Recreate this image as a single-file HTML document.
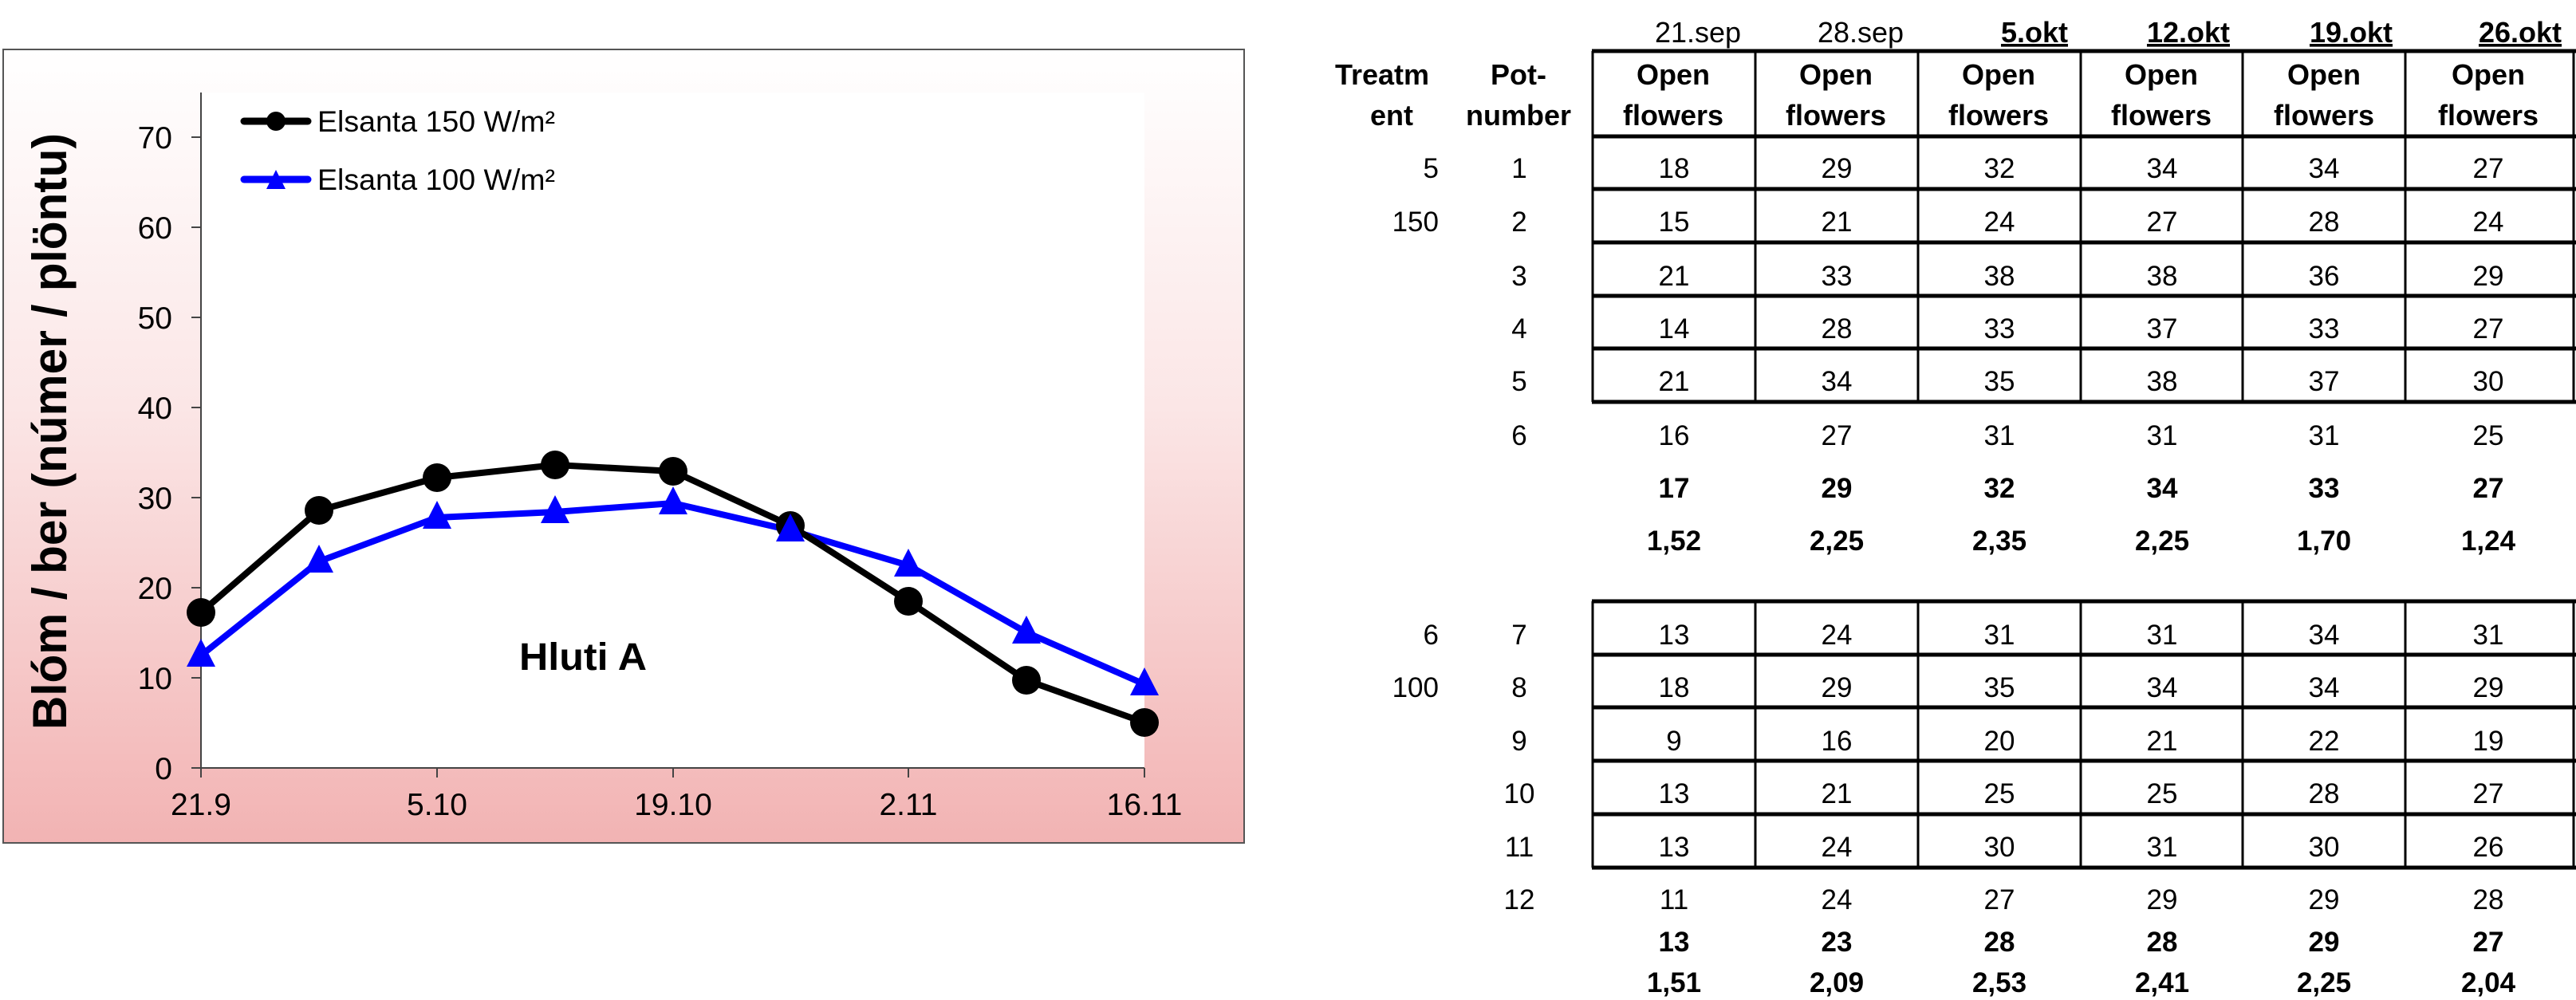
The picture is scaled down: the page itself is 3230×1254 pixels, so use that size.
<!DOCTYPE html>
<html><head><meta charset="utf-8"><style>
html,body{margin:0;padding:0;background:#fff}
svg{display:block}
text{font-family:"Liberation Sans",Arial,sans-serif}
</style></head><body>
<svg width="3230" height="1254" viewBox="0 0 3230 1254" xmlns="http://www.w3.org/2000/svg">
<defs>
<linearGradient id="bg" x1="0" y1="0" x2="0" y2="1">
<stop offset="0" stop-color="#ffffff"/>
<stop offset="0.45" stop-color="#fbe6e6"/>
<stop offset="1" stop-color="#f2b3b3"/>
</linearGradient>
</defs>
<rect x="4" y="62" width="1556" height="995" fill="url(#bg)" stroke="#555" stroke-width="2"/>
<rect x="252" y="116" width="1183" height="847" fill="#fff"/>
<g stroke="#444" stroke-width="2">
<line x1="252" y1="116" x2="252" y2="963"/>
<line x1="252" y1="963" x2="1435" y2="963"/>
<line x1="240" y1="963" x2="252" y2="963"/><line x1="240" y1="850" x2="252" y2="850"/>
<line x1="240" y1="737" x2="252" y2="737"/><line x1="240" y1="624" x2="252" y2="624"/>
<line x1="240" y1="511" x2="252" y2="511"/><line x1="240" y1="398" x2="252" y2="398"/>
<line x1="240" y1="285" x2="252" y2="285"/><line x1="240" y1="172" x2="252" y2="172"/>
<line x1="252" y1="963" x2="252" y2="975"/><line x1="548" y1="963" x2="548" y2="975"/>
<line x1="844" y1="963" x2="844" y2="975"/><line x1="1139" y1="963" x2="1139" y2="975"/>
<line x1="1435" y1="963" x2="1435" y2="975"/>
</g>
<g font-size="39" text-anchor="end">
<text x="216" y="977">0</text><text x="216" y="864">10</text><text x="216" y="751">20</text>
<text x="216" y="638">30</text><text x="216" y="525">40</text><text x="216" y="412">50</text>
<text x="216" y="299">60</text><text x="216" y="186">70</text>
</g>
<g font-size="39" text-anchor="middle">
<text x="252" y="1022">21.9</text><text x="548" y="1022">5.10</text><text x="844" y="1022">19.10</text>
<text x="1139" y="1022">2.11</text><text x="1435" y="1022">16.11</text>
</g>
<text transform="translate(83,541) rotate(-90)" font-size="60" font-weight="bold" text-anchor="middle" textLength="748" lengthAdjust="spacingAndGlyphs">Blóm / ber (númer / plöntu)</text>
<text x="651" y="840" font-size="48" font-weight="bold" textLength="160" lengthAdjust="spacingAndGlyphs">Hluti A</text>
<polyline fill="none" stroke="#0000ff" stroke-width="8" points="252,822 400,704 548,649 696,642 844,631 991,665 1139,709 1287,793 1435,858"/>
<polyline fill="none" stroke="#000" stroke-width="8" points="252,768 400,640 548,599 696,583 844,591 991,659 1139,754 1287,853 1435,906"/>
<g fill="#000">
<circle cx="252" cy="768" r="18"/><circle cx="400" cy="640" r="18"/><circle cx="548" cy="599" r="18"/>
<circle cx="696" cy="583" r="18"/><circle cx="844" cy="591" r="18"/><circle cx="991" cy="659" r="18"/>
<circle cx="1139" cy="754" r="18"/><circle cx="1287" cy="853" r="18"/><circle cx="1435" cy="906" r="18"/>
</g>
<g fill="#0000ff">
<path d="M252,801 l18,35 h-36z"/><path d="M400,683 l18,35 h-36z"/><path d="M548,628 l18,35 h-36z"/>
<path d="M696,621 l18,35 h-36z"/><path d="M844,610 l18,35 h-36z"/><path d="M991,644 l18,35 h-36z"/>
<path d="M1139,688 l18,35 h-36z"/><path d="M1287,772 l18,35 h-36z"/><path d="M1435,837 l18,35 h-36z"/>
</g>
<line x1="306" y1="152" x2="386" y2="152" stroke="#000" stroke-width="9" stroke-linecap="round"/>
<circle cx="346" cy="152" r="12" fill="#000"/>
<line x1="306" y1="225" x2="386" y2="225" stroke="#0000ff" stroke-width="9" stroke-linecap="round"/>
<path d="M346,213 l12,24 h-24z" fill="#0000ff"/>
<text x="398" y="165" font-size="37" textLength="298" lengthAdjust="spacingAndGlyphs">Elsanta 150 W/m²</text>
<text x="398" y="238" font-size="37" textLength="298" lengthAdjust="spacingAndGlyphs">Elsanta 100 W/m²</text>

<g font-size="36" text-anchor="middle">
<text x="2129" y="53">21.sep</text><text x="2333" y="53">28.sep</text>
<g font-weight="bold" text-decoration="underline">
<text x="2551" y="53">5.okt</text><text x="2744" y="53">12.okt</text>
<text x="2948" y="53">19.okt</text><text x="3160" y="53">26.okt</text>
</g>
</g>
<g font-size="36" font-weight="bold" text-anchor="middle">
<text x="1733" y="106">Treatm</text><text x="1745" y="157">ent</text>
<text x="1904" y="106">Pot-</text><text x="1904" y="157">number</text>
<text x="2098" y="106">Open</text><text x="2098" y="157">flowers</text>
<text x="2302" y="106">Open</text><text x="2302" y="157">flowers</text>
<text x="2506" y="106">Open</text><text x="2506" y="157">flowers</text>
<text x="2710" y="106">Open</text><text x="2710" y="157">flowers</text>
<text x="2914" y="106">Open</text><text x="2914" y="157">flowers</text>
<text x="3120" y="106">Open</text><text x="3120" y="157">flowers</text>
</g>
<g stroke="#000" stroke-width="3" fill="none">
<line x1="1997" y1="64" x2="1997" y2="504"/><line x1="2201" y1="64" x2="2201" y2="504"/>
<line x1="2405" y1="64" x2="2405" y2="504"/><line x1="2609" y1="64" x2="2609" y2="504"/>
<line x1="2812" y1="64" x2="2812" y2="504"/><line x1="3016" y1="64" x2="3016" y2="504"/>
<line x1="3227" y1="64" x2="3227" y2="504"/>
<line x1="1997" y1="754" x2="1997" y2="1088"/><line x1="2201" y1="754" x2="2201" y2="1088"/>
<line x1="2405" y1="754" x2="2405" y2="1088"/><line x1="2609" y1="754" x2="2609" y2="1088"/>
<line x1="2812" y1="754" x2="2812" y2="1088"/><line x1="3016" y1="754" x2="3016" y2="1088"/>
<line x1="3227" y1="754" x2="3227" y2="1088"/>
</g>
<g stroke="#000" stroke-width="5">
<line x1="1996" y1="64" x2="3230" y2="64"/><line x1="1996" y1="171" x2="3230" y2="171"/>
<line x1="1996" y1="237" x2="3230" y2="237"/><line x1="1996" y1="304" x2="3230" y2="304"/>
<line x1="1996" y1="371" x2="3230" y2="371"/><line x1="1996" y1="437" x2="3230" y2="437"/>
<line x1="1996" y1="504" x2="3230" y2="504"/>
<line x1="1996" y1="754" x2="3230" y2="754"/><line x1="1996" y1="821" x2="3230" y2="821"/>
<line x1="1996" y1="887" x2="3230" y2="887"/><line x1="1996" y1="954" x2="3230" y2="954"/>
<line x1="1996" y1="1021" x2="3230" y2="1021"/><line x1="1996" y1="1088" x2="3230" y2="1088"/>
</g>
<g font-size="35">
<g text-anchor="end">
<text x="1804" y="223">5</text><text x="1804" y="290">150</text>
<text x="1804" y="808">6</text><text x="1804" y="874">100</text>
</g>
<g text-anchor="middle">
<text x="1905" y="223">1</text><text x="1905" y="290">2</text><text x="1905" y="358">3</text>
<text x="1905" y="424">4</text><text x="1905" y="490">5</text><text x="1905" y="558">6</text>
<text x="1905" y="808">7</text><text x="1905" y="874">8</text><text x="1905" y="941">9</text>
<text x="1905" y="1007">10</text><text x="1905" y="1074">11</text><text x="1905" y="1140">12</text>
</g>
<g text-anchor="middle">
<text x="2099" y="223">18</text><text x="2303" y="223">29</text><text x="2507" y="223">32</text><text x="2711" y="223">34</text><text x="2914" y="223">34</text><text x="3120" y="223">27</text>
<text x="2099" y="290">15</text><text x="2303" y="290">21</text><text x="2507" y="290">24</text><text x="2711" y="290">27</text><text x="2914" y="290">28</text><text x="3120" y="290">24</text>
<text x="2099" y="358">21</text><text x="2303" y="358">33</text><text x="2507" y="358">38</text><text x="2711" y="358">38</text><text x="2914" y="358">36</text><text x="3120" y="358">29</text>
<text x="2099" y="424">14</text><text x="2303" y="424">28</text><text x="2507" y="424">33</text><text x="2711" y="424">37</text><text x="2914" y="424">33</text><text x="3120" y="424">27</text>
<text x="2099" y="490">21</text><text x="2303" y="490">34</text><text x="2507" y="490">35</text><text x="2711" y="490">38</text><text x="2914" y="490">37</text><text x="3120" y="490">30</text>
<text x="2099" y="558">16</text><text x="2303" y="558">27</text><text x="2507" y="558">31</text><text x="2711" y="558">31</text><text x="2914" y="558">31</text><text x="3120" y="558">25</text>
<text x="2099" y="808">13</text><text x="2303" y="808">24</text><text x="2507" y="808">31</text><text x="2711" y="808">31</text><text x="2914" y="808">34</text><text x="3120" y="808">31</text>
<text x="2099" y="874">18</text><text x="2303" y="874">29</text><text x="2507" y="874">35</text><text x="2711" y="874">34</text><text x="2914" y="874">34</text><text x="3120" y="874">29</text>
<text x="2099" y="941">9</text><text x="2303" y="941">16</text><text x="2507" y="941">20</text><text x="2711" y="941">21</text><text x="2914" y="941">22</text><text x="3120" y="941">19</text>
<text x="2099" y="1007">13</text><text x="2303" y="1007">21</text><text x="2507" y="1007">25</text><text x="2711" y="1007">25</text><text x="2914" y="1007">28</text><text x="3120" y="1007">27</text>
<text x="2099" y="1074">13</text><text x="2303" y="1074">24</text><text x="2507" y="1074">30</text><text x="2711" y="1074">31</text><text x="2914" y="1074">30</text><text x="3120" y="1074">26</text>
<text x="2099" y="1140">11</text><text x="2303" y="1140">24</text><text x="2507" y="1140">27</text><text x="2711" y="1140">29</text><text x="2914" y="1140">29</text><text x="3120" y="1140">28</text>
</g>
<g text-anchor="middle" font-weight="bold">
<text x="2099" y="624">17</text><text x="2303" y="624">29</text><text x="2507" y="624">32</text><text x="2711" y="624">34</text><text x="2914" y="624">33</text><text x="3120" y="624">27</text>
<text x="2099" y="690">1,52</text><text x="2303" y="690">2,25</text><text x="2507" y="690">2,35</text><text x="2711" y="690">2,25</text><text x="2914" y="690">1,70</text><text x="3120" y="690">1,24</text>
<text x="2099" y="1193">13</text><text x="2303" y="1193">23</text><text x="2507" y="1193">28</text><text x="2711" y="1193">28</text><text x="2914" y="1193">29</text><text x="3120" y="1193">27</text>
<text x="2099" y="1244">1,51</text><text x="2303" y="1244">2,09</text><text x="2507" y="1244">2,53</text><text x="2711" y="1244">2,41</text><text x="2914" y="1244">2,25</text><text x="3120" y="1244">2,04</text>
</g>
</g>
</svg>
</body></html>
